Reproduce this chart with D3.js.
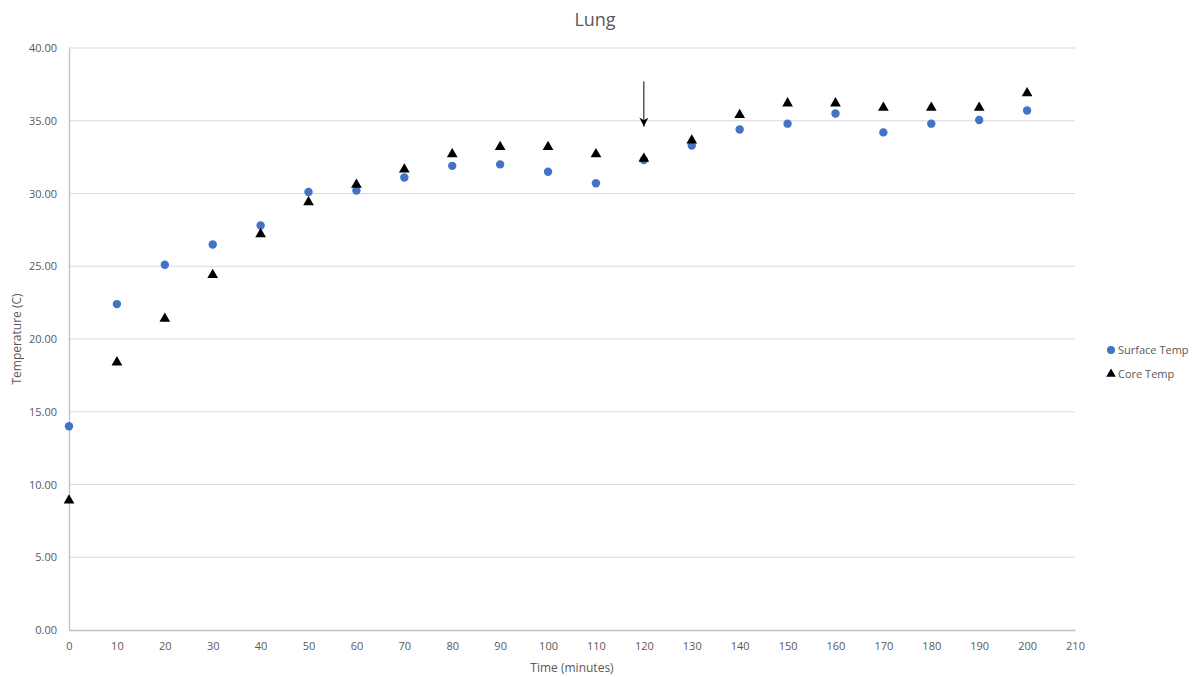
<!DOCTYPE html>
<html><head><meta charset="utf-8">
<script src="https://cdn.jsdelivr.net/npm/d3@7"></script>
<style>body{margin:0;background:#fff;} text{font-family:"Open Sans","Noto Sans",sans-serif;fill:#595959;}</style>
</head><body><svg id="c" width="1203" height="677"></svg>
<script>
const times = [0,10,20,30,40,50,60,70,80,90,100,110,120,130,140,150,160,170,180,190,200];
const surfaceTemp = [14.0,22.4,25.1,26.5,27.8,30.1,30.2,31.1,31.9,32.0,31.5,30.7,32.3,33.3,34.4,34.8,35.5,34.2,34.8,35.05,35.7];
const coreTemp = [8.9,18.4,21.4,24.4,27.2,29.4,30.6,31.65,32.7,33.2,33.2,32.7,32.4,33.65,35.4,36.2,36.2,35.9,35.9,35.9,36.9];
const xTicks = d3.range(0,211,10);
const yTicks = d3.range(0,41,5);
const arrowAt = {x:120, from:37.7, to:34.6};

const svg = d3.select("#c");
const x = d3.scaleLinear().domain([0,210]).range([69,1075]);
const y = d3.scaleLinear().domain([0,40]).range([630,48]);

// gridlines
svg.append("g").selectAll("line").data(yTicks.filter(d=>d>0)).join("line")
  .attr("x1",x(0)).attr("x2",x(210)).attr("y1",d=>y(d)).attr("y2",d=>y(d))
  .attr("stroke","#d9d9d9").attr("stroke-width",1);

// axes
const yAxis = svg.append("g").attr("transform",`translate(${x(0)},0)`)
  .call(d3.axisLeft(y).tickValues(yTicks).tickFormat(d3.format(".2f")).tickSize(0).tickPadding(12));
const xAxis = svg.append("g").attr("transform",`translate(0,${y(0)})`)
  .call(d3.axisBottom(x).tickValues(xTicks).tickSize(0).tickPadding(12));
[yAxis,xAxis].forEach(g=>{
  g.select(".domain").attr("stroke","#bfbfbf").attr("stroke-width",1.3);
  g.selectAll("text").style("font-size","11px").attr("fill","#595959");
});

// points
svg.append("g").selectAll("circle").data(times).join("circle")
  .attr("cx",(d)=>x(d)).attr("cy",(d,i)=>y(surfaceTemp[i])).attr("r",4.2).attr("fill","#4472c4");
const tri = d3.symbol().type(d3.symbolTriangle).size(50);
svg.append("g").selectAll("path").data(times).join("path")
  .attr("d",tri).attr("transform",(d,i)=>`translate(${x(d)},${y(coreTemp[i])})`).attr("fill","#000");

// arrow
svg.append("defs").append("marker").attr("id","ah").attr("viewBox","0 0 10 10")
  .attr("refX",10).attr("refY",5).attr("markerWidth",10).attr("markerHeight",9)
  .attr("markerUnits","userSpaceOnUse").attr("orient","auto")
  .append("path").attr("d","M0,0 L10,5 L0,10 L3,5 z").attr("fill","#000");
svg.append("line").attr("x1",x(arrowAt.x)).attr("x2",x(arrowAt.x))
  .attr("y1",y(arrowAt.from)).attr("y2",y(arrowAt.to))
  .attr("stroke","#000").attr("stroke-width",1).attr("marker-end","url(#ah)");

// title & labels
svg.append("text").attr("x",595).attr("y",26).attr("text-anchor","middle").style("font-size","18px").text("Lung");
svg.append("text").attr("x",572).attr("y",672).attr("text-anchor","middle").style("font-size","12px").text("Time (minutes)");
svg.append("text").attr("transform","translate(21,339) rotate(-90)").attr("text-anchor","middle").style("font-size","12px").text("Temperature (C)");

// legend
const lg = svg.append("g");
lg.append("circle").attr("cx",1111).attr("cy",350).attr("r",4).attr("fill","#4472c4");
lg.append("text").attr("x",1118).attr("y",354).style("font-size","11px").text("Surface Temp");
lg.append("path").attr("d",d3.symbol().type(d3.symbolTriangle).size(40)).attr("transform","translate(1111,374)").attr("fill","#000");
lg.append("text").attr("x",1118).attr("y",378).style("font-size","11px").text("Core Temp");
</script></body></html>
